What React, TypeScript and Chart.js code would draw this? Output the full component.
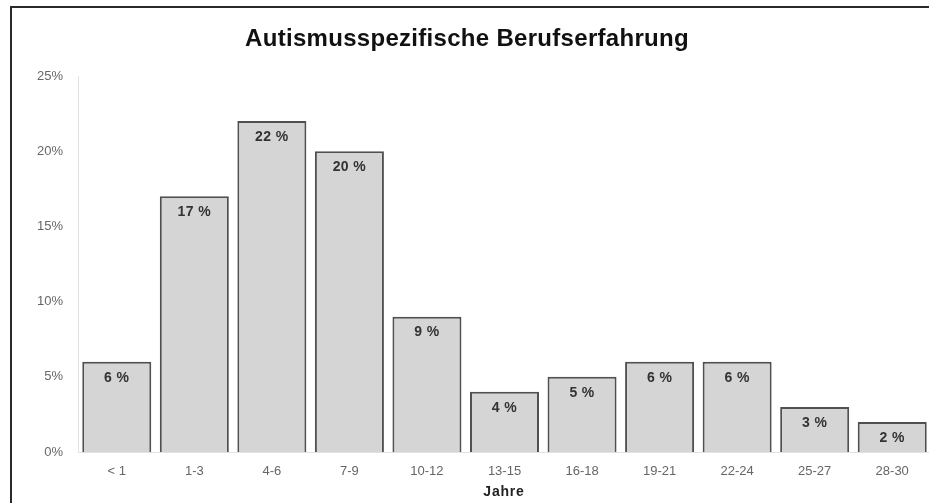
import React, { useEffect, useRef } from "react";
import { Chart, registerables } from "chart.js";

Chart.register(...registerables);

const categories = ["< 1", "1-3", "4-6", "7-9", "10-12", "13-15", "16-18", "19-21", "22-24", "25-27", "28-30"];
const shares = [6, 17, 22, 20, 9, 4, 5, 6, 6, 3, 2];
const yTicks = [0, 5, 10, 15, 20, 25];
const chartTitle = "Autismusspezifische Berufserfahrung";
const xTitle = "Jahre";

const FONT = "Arial, 'Liberation Sans', sans-serif";

// Title, axis caption and the value inside each bar
const annotate = {
  id: "annotate",
  afterDatasetsDraw(chart: any) {
    const ctx = chart.ctx;
    ctx.save();
    ctx.textAlign = "center";

    ctx.textBaseline = "alphabetic";
    ctx.fillStyle = "#111";
    ctx.font = `bold 24px ${FONT}`;
    (ctx as any).letterSpacing = "0.3px";
    ctx.fillText(chartTitle, 467, 46);

    ctx.fillStyle = "#222";
    ctx.font = `bold 14px ${FONT}`;
    (ctx as any).letterSpacing = "0.8px";
    ctx.fillText(xTitle, 504, 496);

    const meta = chart.getDatasetMeta(0);
    ctx.textBaseline = "middle";
    ctx.fillStyle = "#333";
    ctx.font = `bold 14px ${FONT}`;
    (ctx as any).letterSpacing = "0.4px";
    meta.data.forEach((bar: any, i: number) => {
      ctx.fillText(`${shares[i]} %`, bar.x, bar.y + 16);
    });
    ctx.restore();
  },
};

export default function App() {
  const ref = useRef<HTMLCanvasElement | null>(null);

  useEffect(() => {
    if (!ref.current) return;
    const chart = new Chart(ref.current, {
      type: "bar",
      data: {
        labels: categories,
        datasets: [
          {
            data: shares,
            backgroundColor: "#d5d5d5",
            borderColor: "#505050",
            borderWidth: 2,
            barPercentage: 0.89,
            categoryPercentage: 1,
          },
        ],
      },
      options: {
        responsive: false,
        animation: false,
        layout: { padding: { top: 76, left: 0, right: 9, bottom: 0 } },
        plugins: {
          legend: { display: false },
          tooltip: { enabled: false },
          title: { display: false },
        },
        scales: {
          x: {
            grid: { display: false, drawTicks: false },
            border: { display: true, color: "#e2e2e2", width: 1 },
            ticks: {
              color: "#666",
              font: { size: 13, family: FONT },
              padding: 12,
              maxRotation: 0,
              autoSkip: false,
            },
            afterFit(scale: any) {
              scale.height = 51;
            },
          },
          y: {
            min: 0,
            max: 25,
            afterBuildTicks(scale: any) {
              scale.ticks = yTicks.map((v) => ({ value: v }));
            },
            grid: { display: false, drawTicks: false },
            border: { display: true, color: "#e2e2e2", width: 1 },
            ticks: {
              color: "#666",
              font: { size: 13, family: FONT },
              padding: 15,
              callback: (v: any) => `${v}%`,
            },
            afterFit(scale: any) {
              scale.width = 78;
            },
          },
        },
      },
      plugins: [annotate],
    });
    return () => chart.destroy();
  }, []);

  return (
    <div
      style={{
        position: "fixed",
        left: 0,
        top: 0,
        width: 929,
        height: 503,
        overflow: "hidden",
        background: "#fff",
      }}
    >
      <canvas ref={ref} width={940} height={503} style={{ position: "absolute", left: 0, top: 0 }} />
      <div
        style={{
          position: "absolute",
          left: 10,
          top: 6,
          width: 1000,
          height: 600,
          borderLeft: "2px solid #2a2a2a",
          borderTop: "2px solid #2a2a2a",
          pointerEvents: "none",
        }}
      />
    </div>
  );
}
